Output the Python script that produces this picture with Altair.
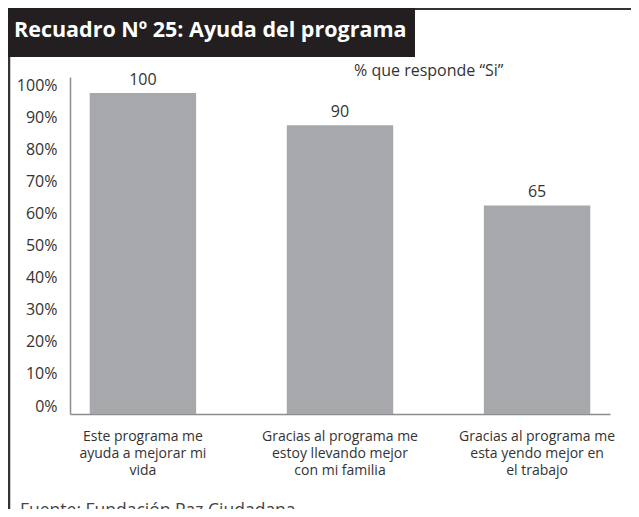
import altair as alt
import pandas as pd

categories = [
    "Este programa me\nayuda a mejorar mi\nvida",
    "Gracias al programa me\nestoy llevando mejor\ncon mi familia",
    "Gracias al programa me\nesta yendo mejor en\nel trabajo",
]
values = [100, 90, 65]
y_ticks = [0, 10, 20, 30, 40, 50, 60, 70, 80, 90, 100]

title_text = "Recuadro Nº 25: Ayuda del programa"
subtitle_text = "% que responde “Si”"
source_text = "Fuente: Fundación Paz Ciudadana"

FONT = "Open Sans"
df = pd.DataFrame({"cat": categories, "val": values})
dummy = pd.DataFrame({"a": [0]})

x_enc = alt.X(
    "cat:N",
    sort=categories,
    scale=alt.Scale(paddingInner=0.46, paddingOuter=0.1),
    axis=alt.Axis(
        title=None, labelAngle=0, ticks=False, labelPadding=15,
        labelExpr="split(datum.label, '\\n')", labelLineHeight=17,
        labelFontSize=14, labelColor="#333333", labelFont=FONT,
        domainColor="#8c8c8c", domainWidth=1.5, labelBaseline="top",
    ),
)
y_enc = alt.Y(
    "val:Q",
    scale=alt.Scale(domain=[0, 105], nice=False),
    axis=alt.Axis(
        title=None, values=y_ticks, labelExpr="datum.value + '%'",
        grid=False, ticks=False, labelPadding=13, labelFontSize=16,
        labelColor="#333333", labelFont=FONT, labelOffset=-8,
        labelOverlap=False, tickCount=11,
        domainColor="#8c8c8c", domainWidth=1.5,
    ),
)

bars = alt.Chart(df).mark_bar(color="#a7a8ab").encode(x=x_enc, y=y_enc)
labels = alt.Chart(df).mark_text(
    baseline="bottom", dy=-5, fontSize=16, font=FONT, color="#333333"
).encode(x=x_enc, y=y_enc, text=alt.Text("val:Q"))

title_box = alt.Chart(dummy).mark_rect(color="#231f20").encode(
    x=alt.value(-62), x2=alt.value(345), y=alt.value(-69), y2=alt.value(-20)
)
title = alt.Chart(dummy).mark_text(
    text=title_text, align="left", baseline="alphabetic", fontSize=21.5,
    fontWeight="bold", font=FONT, color="white"
).encode(x=alt.value(-56), y=alt.value(-40))
top_line = alt.Chart(dummy).mark_rule(color="#333333", strokeWidth=2).encode(
    x=alt.value(345), x2=alt.value(561), y=alt.value(-68)
)
left_line = alt.Chart(dummy).mark_rule(color="#333333", strokeWidth=2.5).encode(
    x=alt.value(-61), y=alt.value(-20), y2=alt.value(432)
)
subtitle = alt.Chart(dummy).mark_text(
    text=subtitle_text, align="left", baseline="middle", fontSize=16,
    font=FONT, color="#333333"
).encode(x=alt.value(284), y=alt.value(-6))
source = alt.Chart(dummy).mark_text(
    text=source_text, align="left", baseline="middle", fontSize=17.5,
    font=FONT, color="#444444"
).encode(x=alt.value(-50), y=alt.value(434))

chart = alt.layer(
    title_box, top_line, left_line, bars, labels, title, subtitle, source
).properties(
    width=540, height=337,
    padding={"left": 62, "top": 69, "right": 21, "bottom": 95},
    autosize=alt.AutoSizeParams(type="none"),
).configure_view(strokeWidth=0)

chart.save("out.html", embed_options={"renderer": "svg", "actions": False})
